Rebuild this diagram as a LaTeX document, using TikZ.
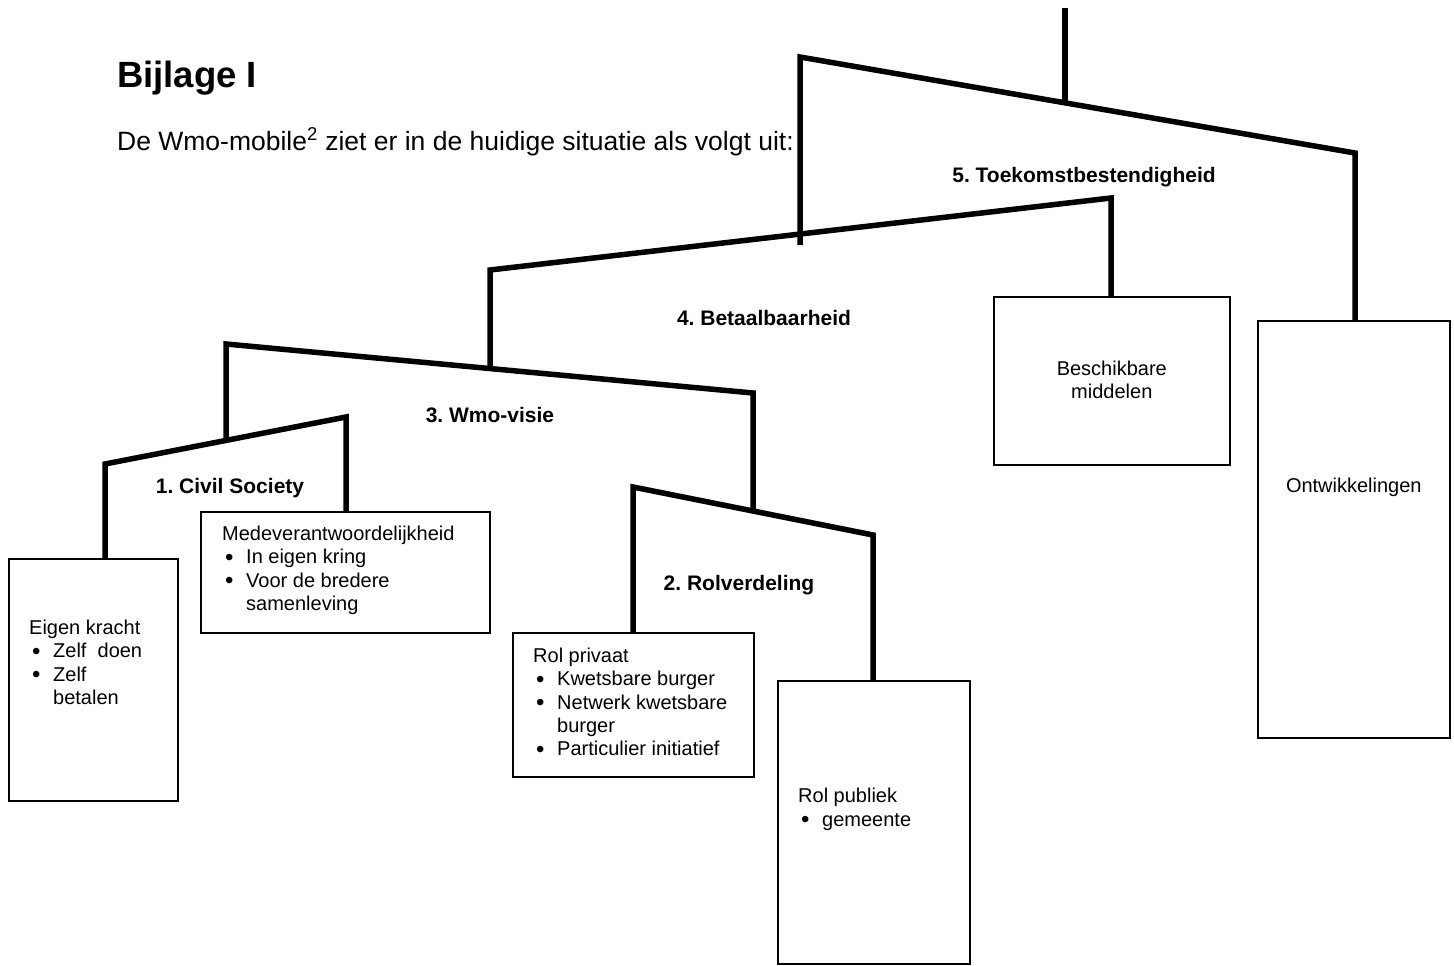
\documentclass[tikz,border=0pt]{standalone}
\usepackage{fontspec}
\setmainfont{Liberation Sans}
\usetikzlibrary{positioning}

\newcommand{\itm}{\hspace*{3pt}\makebox[21pt][l]{\smash{\raisebox{-1.2pt}{\fontsize{24}{0}\selectfont•}}}}
\newcommand{\cnt}{\hspace*{24pt}}

\tikzset{
  arm/.style={line width=5.5pt, line join=miter},
  vak/.style={draw, line width=1.6pt, anchor=north west, inner sep=0pt},
  vaktekst/.style={anchor=north west, inner sep=0pt, align=left, font=\fontsize{20}{23.3}\selectfont},
  kop/.style={anchor=base, inner sep=0pt, font=\fontsize{21}{24}\selectfont\bfseries},
}

\begin{document}
\frenchspacing
\begin{tikzpicture}[x=1pt, y=-1pt]
\useasboundingbox (0,0) rectangle (1454,966);

\coordinate (top) at (1065,8);
\coordinate (h5) at (1065,102);
\coordinate (T5L) at (800,57);
\coordinate (T5R) at (1355,153);
\coordinate (h4) at (800,245);
\coordinate (T4L) at (490,270);
\coordinate (T4R) at (1111,198);
\coordinate (h3) at (490,368);
\coordinate (T3L) at (226,344);
\coordinate (T3R) at (753,393);
\coordinate (h1) at (226,440);
\coordinate (h2) at (753,510);
\coordinate (T1L) at (105,464);
\coordinate (T1R) at (346,417);
\coordinate (T2L) at (633,487);
\coordinate (T2R) at (873,535);

% the boxes that hang from the mobile
\node[vak, minimum width=169pt, minimum height=242pt] (eigen) at (8,558) {};
\node[vak, minimum width=289pt, minimum height=121pt] (mede) at (200,511) {};
\node[vak, minimum width=241pt, minimum height=144pt] (priv) at (512,632) {};
\node[vak, minimum width=192pt, minimum height=283pt] (publ) at (777,680) {};
\node[vak, minimum width=236pt, minimum height=168pt] (besch) at (993,296) {};
\node[vak, minimum width=192pt, minimum height=417pt] (ontw) at (1257,320) {};

% arms
\draw[arm] (top) -- (h5);
\draw[arm] (h4) -- (T5L) -- (T5R) -- (T5R |- ontw.north);
\draw[arm] (h3) -- (T4L) -- (T4R) -- (T4R |- besch.north);
\draw[arm] (h1) -- (T3L) -- (T3R) -- (h2);
\draw[arm] (T1L |- eigen.north) -- (T1L) -- (T1R) -- (T1R |- mede.north);
\draw[arm] (T2L |- priv.north) -- (T2L) -- (T2R) -- (T2R |- publ.north);

\node[kop] (lab5) at (1084,182) {5. Toekomstbestendigheid};
\node[kop] (lab4) at (764,325) {4. Betaalbaarheid};
\node[kop] (lab3) at (490,422) {3. Wmo-visie};
\node[kop] (lab1) at (230,493) {1. Civil Society};
\node[kop] (lab2) at (739,590) {2. Rolverdeling};

\node[vaktekst] (eigentxt) at (29,620) {Eigen kracht\\\itm Zelf\ \ doen\\\itm Zelf\\\cnt betalen};
\node[vaktekst] (medetxt) at (222,526) {Medeverantwoordelijkheid\\\itm In eigen kring\\\itm Voor de bredere\\\cnt samenleving};
\node[vaktekst] (privtxt) at (533,648) {Rol privaat\\\itm Kwetsbare burger\\\itm Netwerk kwetsbare\\\cnt burger\\\itm Particulier initiatief};
\node[vaktekst] (publtxt) at (798,788) {Rol publiek\\\itm gemeente};
\node[vaktekst, anchor=north, align=center] (beschtxt) at (besch.center |- 0,361) {Beschikbare\\middelen};
\node[vaktekst, anchor=base, align=center] (ontwtxt) at (ontw.center |- 0,492) {Ontwikkelingen};

\node[anchor=base west, inner sep=0pt, font=\fontsize{36.5}{42}\selectfont\bfseries] (titel) at (117,88) {Bijlage I};
\node[anchor=base west, inner sep=0pt, font=\fontsize{26.5}{30}\selectfont] (intro) at (117,150) {De Wmo-mobile\textsuperscript{2} ziet er in de huidige situatie als volgt uit:};
\end{tikzpicture}
\end{document}
